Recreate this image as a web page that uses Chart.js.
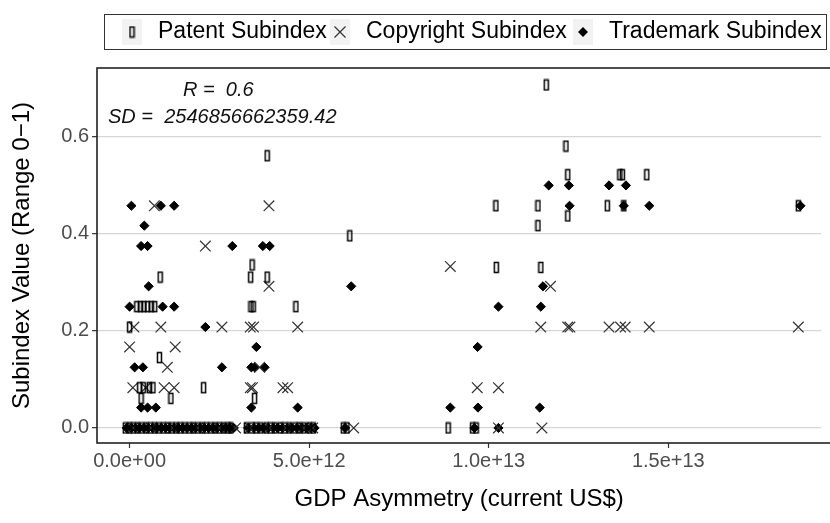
<!DOCTYPE html>
<html>
<head>
<meta charset="utf-8">
<script src="https://cdn.jsdelivr.net/npm/chart.js@4/dist/chart.umd.min.js"></script>
<style>
  html, body { margin: 0; padding: 0; background: #fff; }
</style>
</head>
<body>
<canvas id="chart" width="830" height="523"></canvas>
<script>
// x values are in trillions of US$ (multiplied by 1e12 when the data is built)
const patentX = [
  0.0, 0.83, 0.85, 0.2, 0.3, 0.4, 0.5, 0.6, 0.7, 0.28, 0.38, 0.55, 0.65, 0.32, 1.15, 2.06,
  3.41, 3.37, 3.83, 3.83, 3.38, 3.44, 4.63, 3.48, 6.13,
  10.2, 11.37, 13.3, 13.76, 18.62, 11.6, 12.15, 12.2, 12.2, 11.37, 10.21, 11.45, 13.65, 13.72, 14.4,
  -0.12, 0.0, 0.1, 0.22, 0.34, 0.46, 0.58, 0.7, 0.82, 0.94, 1.06, 1.18, 1.3, 1.42, 1.54, 1.66,
  1.78, 1.9, 2.02, 2.14, 2.26, 2.38, 2.5, 2.62, 2.74, 2.82, 3.25, 3.4, 3.52, 3.65, 3.8, 3.92,
  4.05, 4.2, 4.32, 4.45, 4.6, 4.72, 4.85, 5.0, 5.12, 5.95, 6.05, 8.87, 9.55, 9.65
];
const patentY = [
  0.208, 0.145, 0.311, 0.25, 0.25, 0.25, 0.25, 0.25, 0.25, 0.083, 0.083, 0.083, 0.083, 0.061, 0.061, 0.083,
  0.336, 0.311, 0.311, 0.561, 0.25, 0.25, 0.25, 0.061, 0.396,
  0.458, 0.458, 0.458, 0.458, 0.458, 0.707, 0.581, 0.522, 0.437, 0.417, 0.331, 0.331, 0.522, 0.522, 0.522,
  0, 0, 0, 0, 0, 0, 0, 0, 0, 0, 0, 0, 0, 0, 0, 0,
  0, 0, 0, 0, 0, 0, 0, 0, 0, 0, 0, 0, 0, 0, 0, 0,
  0, 0, 0, 0, 0, 0, 0, 0, 0, 0, 0, 0, 0, 0
];

const copyrightX = [
  0.69, 3.88, 2.11, 8.93, 3.88, 11.72,
  0.12, 0.87, 2.57, 3.36, 3.45, 4.68, 11.45, 12.2, 12.26, 13.35, 13.67, 13.8, 14.47, 18.62,
  0.0, 1.27, 1.05, 3.62,
  0.09, 0.45, 0.96, 1.24, 3.36, 3.42, 4.27, 4.4, 9.68, 10.27,
  0.1, 0.6, 1.2, 1.9, 2.5, 2.95, 3.35, 3.9, 4.35, 4.85, 5.1, 6.24, 10.27, 11.48
];
const copyrightY = [
  0.458, 0.458, 0.375, 0.333, 0.292, 0.292,
  0.208, 0.208, 0.208, 0.208, 0.208, 0.208, 0.208, 0.208, 0.208, 0.208, 0.208, 0.208, 0.208, 0.208,
  0.167, 0.167, 0.125, 0.125,
  0.083, 0.083, 0.083, 0.083, 0.083, 0.083, 0.083, 0.083, 0.083, 0.083,
  0, 0, 0, 0, 0, 0, 0, 0, 0, 0, 0, 0, 0, 0
];

const trademarkX = [
  0.05, 0.87, 1.24, 12.25, 13.76, 14.47, 18.68,
  11.67, 12.23, 13.35, 13.82,
  0.41, 0.32, 0.5, 2.86, 3.71, 3.9,
  0.53, 6.17, 11.51,
  0.0, 0.92, 1.24, 10.27, 11.45,
  2.11, 3.53, 9.69,
  0.14, 0.37, 2.57, 3.39, 3.48, 3.76,
  0.32, 0.5, 0.73, 3.39, 4.68, 8.93, 9.7, 11.42,
  -0.08, 0.05, 0.16, 0.28, 0.4, 0.52, 0.64, 0.76, 0.88, 1.0, 1.12, 1.24, 1.36, 1.48, 1.6, 1.72,
  1.84, 1.96, 2.08, 2.2, 2.32, 2.44, 2.56, 2.68, 2.78, 2.9, 3.3, 3.46, 3.6, 3.72, 3.86, 4.0,
  4.12, 4.26, 4.4, 4.52, 4.66, 4.8, 4.92, 5.05, 5.15, 6.0, 9.6, 10.27
];
const trademarkY = [
  0.458, 0.458, 0.458, 0.458, 0.458, 0.458, 0.458,
  0.5, 0.5, 0.5, 0.5,
  0.417, 0.375, 0.375, 0.375, 0.375, 0.375,
  0.292, 0.292, 0.292,
  0.25, 0.25, 0.25, 0.25, 0.25,
  0.208, 0.167, 0.167,
  0.125, 0.125, 0.125, 0.125, 0.125, 0.125,
  0.042, 0.042, 0.042, 0.042, 0.042, 0.042, 0.042, 0.042,
  0, 0, 0, 0, 0, 0, 0, 0, 0, 0, 0, 0, 0, 0, 0, 0,
  0, 0, 0, 0, 0, 0, 0, 0, 0, 0, 0, 0, 0, 0, 0, 0,
  0, 0, 0, 0, 0, 0, 0, 0, 0, 0, 0, 0
];

const seriesNames = ['Patent Subindex', 'Copyright Subindex', 'Trademark Subindex'];
const xTicks = [0, 5e12, 1e13, 1.5e13];
const yTicks = [0, 0.2, 0.4, 0.6];
const statR = 'R =  0.6';
const statSD = 'SD =  2546856662359.42';

const FONT = '"Liberation Sans", Arial, Helvetica, sans-serif';

function toPoints(xs, ys) {
  return xs.map((x, i) => ({ x: x * 1e12, y: ys[i] }));
}

function sci(v) {
  const [m, e] = Number(v).toExponential(1).split('e');
  const sign = e[0] === '-' ? '-' : '+';
  const digits = e.replace(/[+-]/, '').padStart(2, '0');
  return m + 'e' + sign + digits;
}

// narrow open rectangle, like the patent marks in the picture
const patentMark = document.createElement('canvas');
patentMark.width = 7;
patentMark.height = 13;
const pc = patentMark.getContext('2d');
pc.strokeStyle = '#000';
pc.lineWidth = 1.5;
pc.strokeRect(1.5, 1.5, 4, 10);

const decor = {
  id: 'decor',
  afterDraw(chart) {
    const { ctx, chartArea: a } = chart;
    ctx.save();

    // panel border (the right side is cut off in the original, so it runs past the canvas)
    ctx.strokeStyle = '#222';
    ctx.lineWidth = 1.6;
    ctx.strokeRect(a.left, a.top, a.right - a.left + 20, a.bottom - a.top);

    // R / SD annotation
    ctx.fillStyle = '#111';
    ctx.font = 'italic 20px ' + FONT;
    ctx.textBaseline = 'middle';
    ctx.textAlign = 'left';
    ctx.fillText(statR, 183, 90);
    ctx.fillText(statSD, 108, 117);

    // legend
    ctx.strokeStyle = '#333';
    ctx.lineWidth = 1;
    ctx.strokeRect(104.5, 14.5, 722, 35);
    const keys = [132, 340, 583];
    const texts = [158, 366, 609];
    const cy = 32;
    ctx.font = '23px ' + FONT;
    seriesNames.forEach((name, i) => {
      ctx.fillStyle = '#f2f2f2';
      ctx.fillRect(keys[i] - 10, cy - 13, 20, 26);
      if (i === 0) {
        ctx.drawImage(patentMark, keys[i] - 3.5, cy - 6.5);
      } else if (i === 1) {
        ctx.strokeStyle = '#333';
        ctx.lineWidth = 1.2;
        ctx.beginPath();
        ctx.moveTo(keys[i] - 5.5, cy - 5.5); ctx.lineTo(keys[i] + 5.5, cy + 5.5);
        ctx.moveTo(keys[i] + 5.5, cy - 5.5); ctx.lineTo(keys[i] - 5.5, cy + 5.5);
        ctx.stroke();
      } else {
        ctx.fillStyle = '#000';
        ctx.beginPath();
        ctx.moveTo(keys[i], cy - 5); ctx.lineTo(keys[i] + 5, cy);
        ctx.lineTo(keys[i], cy + 5); ctx.lineTo(keys[i] - 5, cy);
        ctx.closePath();
        ctx.fill();
      }
      ctx.fillStyle = '#000';
      ctx.fillText(name, texts[i], cy);
    });
    ctx.restore();
  }
};

new Chart(document.getElementById('chart'), {
  type: 'scatter',
  data: {
    datasets: [
      {
        label: seriesNames[0],
        data: toPoints(patentX, patentY),
        pointStyle: patentMark,
        pointRadius: 6
      },
      {
        label: seriesNames[1],
        data: toPoints(copyrightX, copyrightY),
        pointStyle: 'crossRot',
        pointRadius: 7.5,
        borderColor: '#333',
        borderWidth: 1.2
      },
      {
        label: seriesNames[2],
        data: toPoints(trademarkX, trademarkY),
        pointStyle: 'rectRot',
        pointRadius: 4.6,
        backgroundColor: '#000',
        borderColor: '#000',
        borderWidth: 1
      }
    ]
  },
  options: {
    responsive: false,
    animation: false,
    events: [],
    layout: { padding: { top: 68, right: 0, bottom: 0, left: 0 } },
    plugins: {
      legend: { display: false },
      tooltip: { enabled: false }
    },
    scales: {
      x: {
        type: 'linear',
        min: -0.908e12,
        max: 19.26e12,
        afterBuildTicks: s => { s.ticks = xTicks.map(v => ({ value: v })); },
        afterFit: s => { s.height = 80; },
        ticks: {
          callback: v => sci(v),
          font: { size: 20, family: FONT },
          color: '#4d4d4d',
          padding: 1,
          maxRotation: 0,
          autoSkip: false
        },
        grid: { drawOnChartArea: false, tickColor: '#333', tickLength: 5, tickWidth: 1.2 },
        border: { display: false },
        title: {
          display: true,
          text: 'GDP Asymmetry (current US$)',
          font: { size: 24, family: FONT },
          color: '#000',
          padding: { top: 0, bottom: 9 }
        }
      },
      y: {
        min: -0.031,
        max: 0.742,
        afterBuildTicks: s => { s.ticks = yTicks.map(v => ({ value: v })); },
        afterFit: s => { s.width = 97; },
        ticks: {
          callback: v => Number(v).toFixed(1),
          font: { size: 20, family: FONT },
          color: '#4d4d4d',
          padding: 3
        },
        grid: { color: '#d6d6d6', lineWidth: 1.3, tickColor: '#333', tickLength: 5, tickWidth: 1.2 },
        border: { display: false },
        title: {
          display: true,
          text: 'Subindex Value (Range 0\u22121)',
          font: { size: 24, family: FONT },
          color: '#000',
          padding: { top: 8, bottom: 0 }
        }
      }
    }
  },
  plugins: [decor]
});
</script>
</body>
</html>
